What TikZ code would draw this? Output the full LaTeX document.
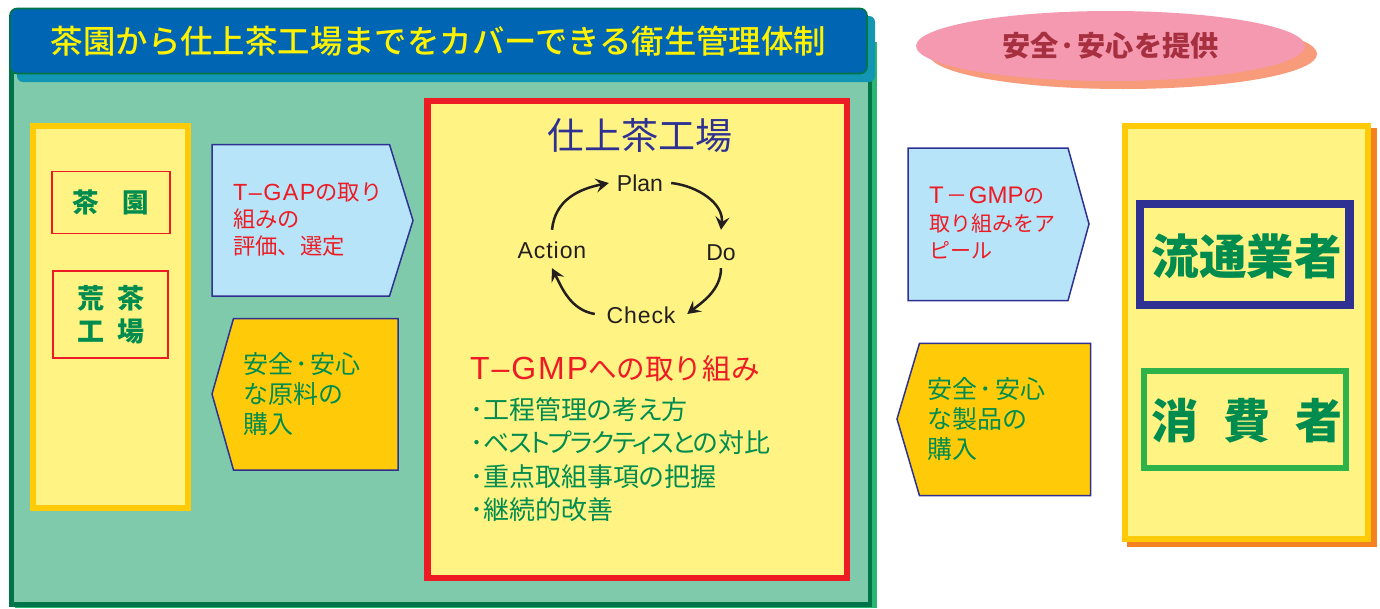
\documentclass[tikz,border=0pt]{standalone}
\usepackage{fontspec}
\usetikzlibrary{arrows.meta,shapes.geometric}
\setmainfont{Noto Sans CJK JP}
\newfontfamily\med{Noto Sans CJK JP Medium}
\newfontfamily\pal[RawFeature=+palt]{Noto Sans CJK JP}
\newfontfamily\lat{Liberation Sans}
\newfontfamily\lats[LetterSpace=4]{Liberation Sans}
\newfontfamily\latw[LetterSpace=6]{Liberation Sans}
\newcommand{\fs}[2]{\fontsize{#1}{#2}\selectfont}
\newcommand{\lift}[2]{\raisebox{-#1pt}[0pt][0pt]{#2}}
\definecolor{cMain}{HTML}{7FCAAB}
\definecolor{cDark}{HTML}{00754A}
\definecolor{cShadow}{HTML}{2BB673}
\definecolor{cTeal}{HTML}{1296B4}
\definecolor{cBlue}{HTML}{0066B3}
\definecolor{cYellow}{HTML}{FFF383}
\definecolor{cGold}{HTML}{FFCB08}
\definecolor{cRed}{HTML}{ED1C24}
\definecolor{cNavy}{HTML}{2E3192}
\definecolor{cSky}{HTML}{B8E4F9}
\definecolor{cText}{HTML}{008C4F}
\definecolor{cOrange}{HTML}{F58220}
\definecolor{cPink}{HTML}{F599B1}
\definecolor{cSalmon}{HTML}{F79B7B}
\definecolor{cWine}{HTML}{A6303F}
\definecolor{cInk}{HTML}{231F20}
\definecolor{cLeaf}{HTML}{2DB34A}
\tikzset{
  panel/.style={draw=cGold,fill=cYellow,line width=6.2pt,inner sep=0pt},
  tag/.style={draw=cRed,fill=cYellow,line width=1.8pt,inner sep=0pt,text=cText,align=center},
  tagarrow/.style={draw=cNavy,line width=1.5pt,line join=miter},
  lbl/.style={inner sep=0pt,align=left,anchor=west},
  pdca/.style={inner sep=0pt,text=cInk,font=\fs{23}{26}},
  cyc/.style={draw=cInk,line width=2.5pt,-{Stealth[length=13pt,width=14pt,inset=5pt]}}
}
\begin{document}
\begin{tikzpicture}[x=1pt,y=-1pt]
\useasboundingbox (0,0) rectangle (1380,608);
% main block
\fill[cShadow] (15,42) rectangle (876.5,608);
\draw[draw=cDark,fill=cMain,line width=4.2pt] (11.5,40) rectangle (870,604.5);
\fill[cTeal,rounded corners=6pt] (17,16) rectangle (875,82);
\node[draw=cDark,fill=cBlue,line width=1.6pt,rounded corners=7pt,minimum width=857pt,minimum height=65pt,inner sep=0pt,text=yellow,font=\med\fs{32.4}{36}] (title) at (438.5,41) {茶園から仕上茶工場までをカバーできる衛生管理体制};
% left panel
\node[panel,minimum width=154.8pt,minimum height=381.5pt] (leftpanel) at (110.5,317) {};
\node[tag,minimum width=118pt,minimum height=62pt,font=\bfseries\fs{26.5}{33}] (farm) at (110.8,202.5) {茶\hspace{23.5pt}園};
\node[tag,minimum width=115pt,minimum height=87pt,font=\bfseries\fs{27}{33}] (factory) at (110.8,314.5) {荒\hspace{13pt}茶\\工\hspace{13pt}場};
% left arrows
\draw[tagarrow,fill=cSky] (212,144.5) -- (389.5,144.5) -- (413,220.5) -- (389.5,296) -- (212,296) -- cycle;
\node[lbl,text=cRed,font=\fs{22.3}{27.2}] (gap) at (233,219.5) {{\latw\fontsize{23.4}{27.2}\selectfont T–GAP}の取り\\組みの\\評価、選定};
\draw[tagarrow,fill=cGold] (212,394) -- (233.5,318.5) -- (398,318.5) -- (398,470) -- (233.5,470) -- cycle;
\node[lbl,text=cText,font=\fs{25}{30}] (buyraw) at (243,394) {安全\kern2pt･\kern3pt安心\\な原料の\\購入};
% centre panel
\node[draw=cRed,fill=cYellow,line width=6.3pt,minimum width=419.5pt,minimum height=477pt,inner sep=0pt] (centre) at (637.3,339.8) {};
\node[inner sep=0pt,text=cNavy,font=\fs{37}{40}] (ctitle) at (640,136) {仕上茶工場};
\node[pdca,minimum width=62pt] (plan) at (640,183) {\lat\lift{8.7}{Plan}};
\node[pdca,minimum height=38pt] (do) at (721,249) {\lat\lift{11}{Do}};
\node[pdca,minimum width=92pt] (check) at (641,314) {\lats\lift{9}{Check}};
\node[pdca,minimum height=38pt] (action) at (552,249) {\lats\lift{9.3}{Action}};
\draw[cyc] (plan.east) .. controls +(27,3) and +(3,-26) .. (do.north);
\draw[cyc] (do.south) .. controls +(0,22) and +(14,-11) .. (check.east);
\draw[cyc] (check.west) .. controls +(-24,-4) and +(10,20) .. (action.south);
\draw[cyc] (action.north) .. controls +(3,-30) and +(-30,6) .. (plan.west);
\node[lbl,text=cRed,font=\fs{28.6}{32}] (gmp) at (470,369) {{\latw\fontsize{32}{32}\selectfont T–GMP}への取り組み};
\node[lbl,text=cText,font=\pal\fs{26}{33.6}] (gmplist) at (470,459.5) {･工程管理の考え方\\･{\addfontfeature{LetterSpace=-7}ベストプラクティスとの}対比\\･重点取組事項の把握\\･継続的改善};
% ellipse
\node[ellipse,fill=cSalmon,minimum width=388pt,minimum height=70pt,inner sep=0pt] (ellshadow) at (1123,54) {};
\node[ellipse,fill=cPink,minimum width=389pt,minimum height=70pt,inner sep=0pt,text=cWine,font=\bfseries\fs{28.2}{32}] (safe) at (1110.5,46) {安全\kern2pt･\kern3pt安心を提供};
% right arrows
\draw[tagarrow,fill=cSky] (908,148) -- (1068,148) -- (1089,224) -- (1068,300.5) -- (908,300.5) -- cycle;
\node[lbl,text=cRed,font=\fs{21}{27.5}] (appeal) at (929,223) {{\lat\fontsize{24}{27.5}\selectfont T}\kern3pt－\kern1pt{\lat\fontsize{24}{27.5}\selectfont GMP}の\\取り組みをア\\ピール};
\draw[tagarrow,fill=cGold] (897,419) -- (919.5,343.3) -- (1090.7,343.3) -- (1090.7,495.7) -- (919.5,495.7) -- cycle;
\node[lbl,text=cText,font=\fs{25}{30}] (buyprod) at (927.5,419) {安全\kern2pt･\kern3pt安心\\な製品の\\購入};
% right panel
\fill[cOrange] (1127,128) rectangle (1376.8,547.3);
\node[panel,minimum width=243pt,minimum height=412.4pt] (rightpanel) at (1246.5,332.5) {};
\node[draw=cNavy,fill=cYellow,line width=8.3pt,minimum width=209.7pt,minimum height=101pt,inner sep=0pt,text=cText,font=\bfseries\fs{47.6}{52}] (dist) at (1244.7,254.7) {\hspace{4pt}\lift{19.5}{流通業者}};
\node[draw=cLeaf,fill=cYellow,line width=6pt,minimum width=202pt,minimum height=97pt,inner sep=0pt,text=cText,font=\bfseries\fs{47}{52}] (cons) at (1244.7,419.2) {\hspace{5pt}\lift{19.7}{消\hspace{25pt}費\hspace{25pt}者}};
\end{tikzpicture}
\end{document}
